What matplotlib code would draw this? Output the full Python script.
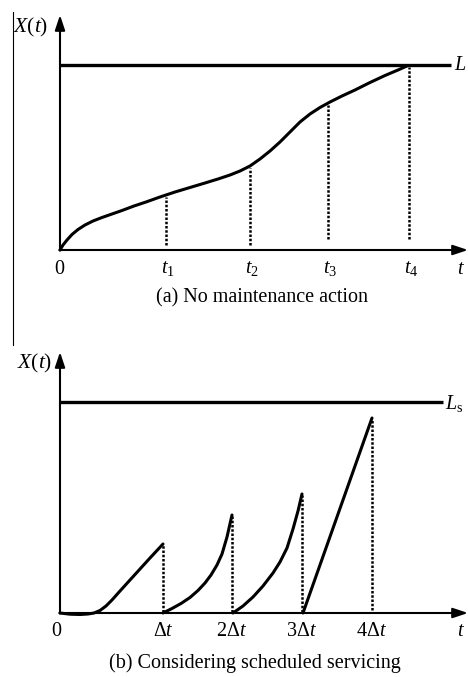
import numpy as np
import matplotlib
matplotlib.use("Agg")
import matplotlib.pyplot as plt
from matplotlib.lines import Line2D

plt.rcParams['font.family'] = ['Liberation Serif', 'DejaVu Serif']
plt.rcParams['mathtext.fontset'] = 'custom'
plt.rcParams['mathtext.rm'] = 'Liberation Serif'
plt.rcParams['mathtext.it'] = 'Liberation Serif:italic'
plt.rcParams['mathtext.bf'] = 'Liberation Serif:bold'

# (a) degradation path, no maintenance
curve_t = [0, 0.03, 0.07, 0.12, 0.18, 0.25, 0.33, 0.42, 0.52, 0.62, 0.74, 0.86, 1.0,
           1.15, 1.30, 1.45, 1.58, 1.70, 1.80, 1.90, 2.00, 2.10, 2.20, 2.30, 2.40,
           2.50, 2.60, 2.70, 2.82, 2.95, 3.10, 3.25, 3.38, 3.47]
curve_x = [0, 0.05, 0.10, 0.155, 0.205, 0.25, 0.29, 0.325, 0.36, 0.395, 0.44, 0.48, 0.53,
           0.58, 0.625, 0.67, 0.71, 0.75, 0.79, 0.84, 0.91, 0.99, 1.08, 1.18, 1.28,
           1.36, 1.425, 1.48, 1.54, 1.60, 1.675, 1.745, 1.80, 1.84]
level_L = 1.85
a_ticks = [0, 1.06, 1.90, 2.68, 3.49]
a_labels = ['0', '$t_1$', '$t_2$', '$t_3$', '$t_4$']
a_drop_top = [0.53, 0.82, 1.45, 1.83]
a_drop_bot = [0.05, 0.05, 0.11, 0.11]

# (b) degradation with scheduled servicing
tooth1_t = [0, 0.10, 0.20, 0.28, 0.34, 0.40, 0.46, 0.52, 0.60, 0.70, 0.80, 0.90, 1.03]
tooth1_x = [0, -0.012, -0.015, -0.01, 0.0, 0.025, 0.07, 0.13, 0.22, 0.33, 0.44, 0.55, 0.69]
tooth2_t = [1.03, 1.12, 1.21, 1.30, 1.38, 1.45, 1.51, 1.57, 1.62, 1.67, 1.72]
tooth2_x = [0, 0.045, 0.095, 0.155, 0.225, 0.30, 0.38, 0.48, 0.59, 0.76, 0.98]
tooth3_t = [1.73, 1.83, 1.93, 2.03, 2.13, 2.20, 2.27, 2.33, 2.38, 2.42]
tooth3_x = [0, 0.07, 0.16, 0.27, 0.40, 0.51, 0.65, 0.84, 1.02, 1.19]
tooth4_t = [2.43, 3.12]
tooth4_x = [0, 1.95]
level_Ls = 2.11
b_ticks = [0, 1.03, 1.72, 2.42, 3.12]
b_labels = ['0', r'$\Delta t$', r'$2\Delta t$', r'$3\Delta t$', r'$4\Delta t$']
b_drop_top = [0.68, 0.97, 1.18, 1.93]
b_drop_bot = [0.01, 0.01, 0.01, 0.03]

fs = 14.5
fs_y = 15.5
dot = dict(color='black', lw=1.8, linestyle=(0, (1, 0.7)), dash_capstyle='butt')
arrow = dict(arrowstyle='-|>,head_length=0.6,head_width=0.2', color='black',
             lw=1.5, shrinkA=0, shrinkB=0, mutation_scale=15)

fig = plt.figure(figsize=(4.68, 6.77), dpi=100)

def panel(ax, ytop):
	ax.set_xlim(-0.60, 4.08)
	ax.axis('off')
	ax.annotate('', xy=(4.08, 0), xytext=(-0.005, 0), arrowprops=arrow)
	ax.annotate('', xy=(0, ytop), xytext=(0, -0.005), arrowprops=arrow)

# top panel
ax1 = fig.add_axes([0, 1 - 320 / 677, 1, 320 / 677])
ax1.set_ylim(-0.70, 2.50)
panel(ax1, 2.35)
ax1.plot([0, 3.91], [level_L, level_L], color='black', lw=2.4, solid_capstyle='butt')
ax1.plot(curve_t, curve_x, color='black', lw=2.2, solid_capstyle='round', solid_joinstyle='round')
for t, y0, y1 in zip(a_ticks[1:], a_drop_bot, a_drop_top):
	ax1.plot([t, t], [y0, y1], **dot)
for t, lab in zip(a_ticks, a_labels):
	ax1.text(t + (0.02 if t > 0 else -0.01), -0.19, lab, ha='center', va='center', fontsize=fs)
ax1.text(4.01, -0.19, '$t$', ha='center', va='center', fontsize=fs)
ax1.text(-0.295, 2.23, '$X(t)$', ha='center', va='center', fontsize=fs_y)
ax1.text(3.94, 1.84, '$L$', ha='left', va='center', fontsize=fs)
ax1.text(2.02, -0.48, '(a) No maintenance action', ha='center', va='center', fontsize=fs)

# bottom panel
ax2 = fig.add_axes([0, 0, 1, 357 / 677])
ax2.set_ylim(-0.64, 2.93)
panel(ax2, 2.61)
ax2.plot([0, 3.83], [level_Ls, level_Ls], color='black', lw=2.4, solid_capstyle='butt')
for tt, xx in [(tooth1_t, tooth1_x), (tooth2_t, tooth2_x), (tooth3_t, tooth3_x), (tooth4_t, tooth4_x)]:
	ax2.plot(tt, xx, color='black', lw=2.2, solid_capstyle='round', solid_joinstyle='round')
for t, y0, y1 in zip(b_ticks[1:], b_drop_bot, b_drop_top):
	ax2.plot([t, t], [y0, y1], **dot)
for t, lab in zip(b_ticks, b_labels):
	ax2.text(t - (0.04 if t == 0 else 0), -0.19, lab, ha='center', va='center', fontsize=fs)
ax2.text(4.01, -0.19, '$t$', ha='center', va='center', fontsize=fs)
ax2.text(-0.25, 2.50, '$X(t)$', ha='center', va='center', fontsize=fs_y)
ax2.text(3.85, 2.09, r'$L_\mathrm{s}$', ha='left', va='center', fontsize=fs)
ax2.text(1.95, -0.50, '(b) Considering scheduled servicing', ha='center', va='center', fontsize=fs)

# thin stray border line on the left of the original figure
fig.add_artist(Line2D([13 / 468, 13 / 468], [1 - 12 / 677, 1 - 345 / 677], color='black', lw=0.8))

plt.savefig('out.png', dpi=100)
